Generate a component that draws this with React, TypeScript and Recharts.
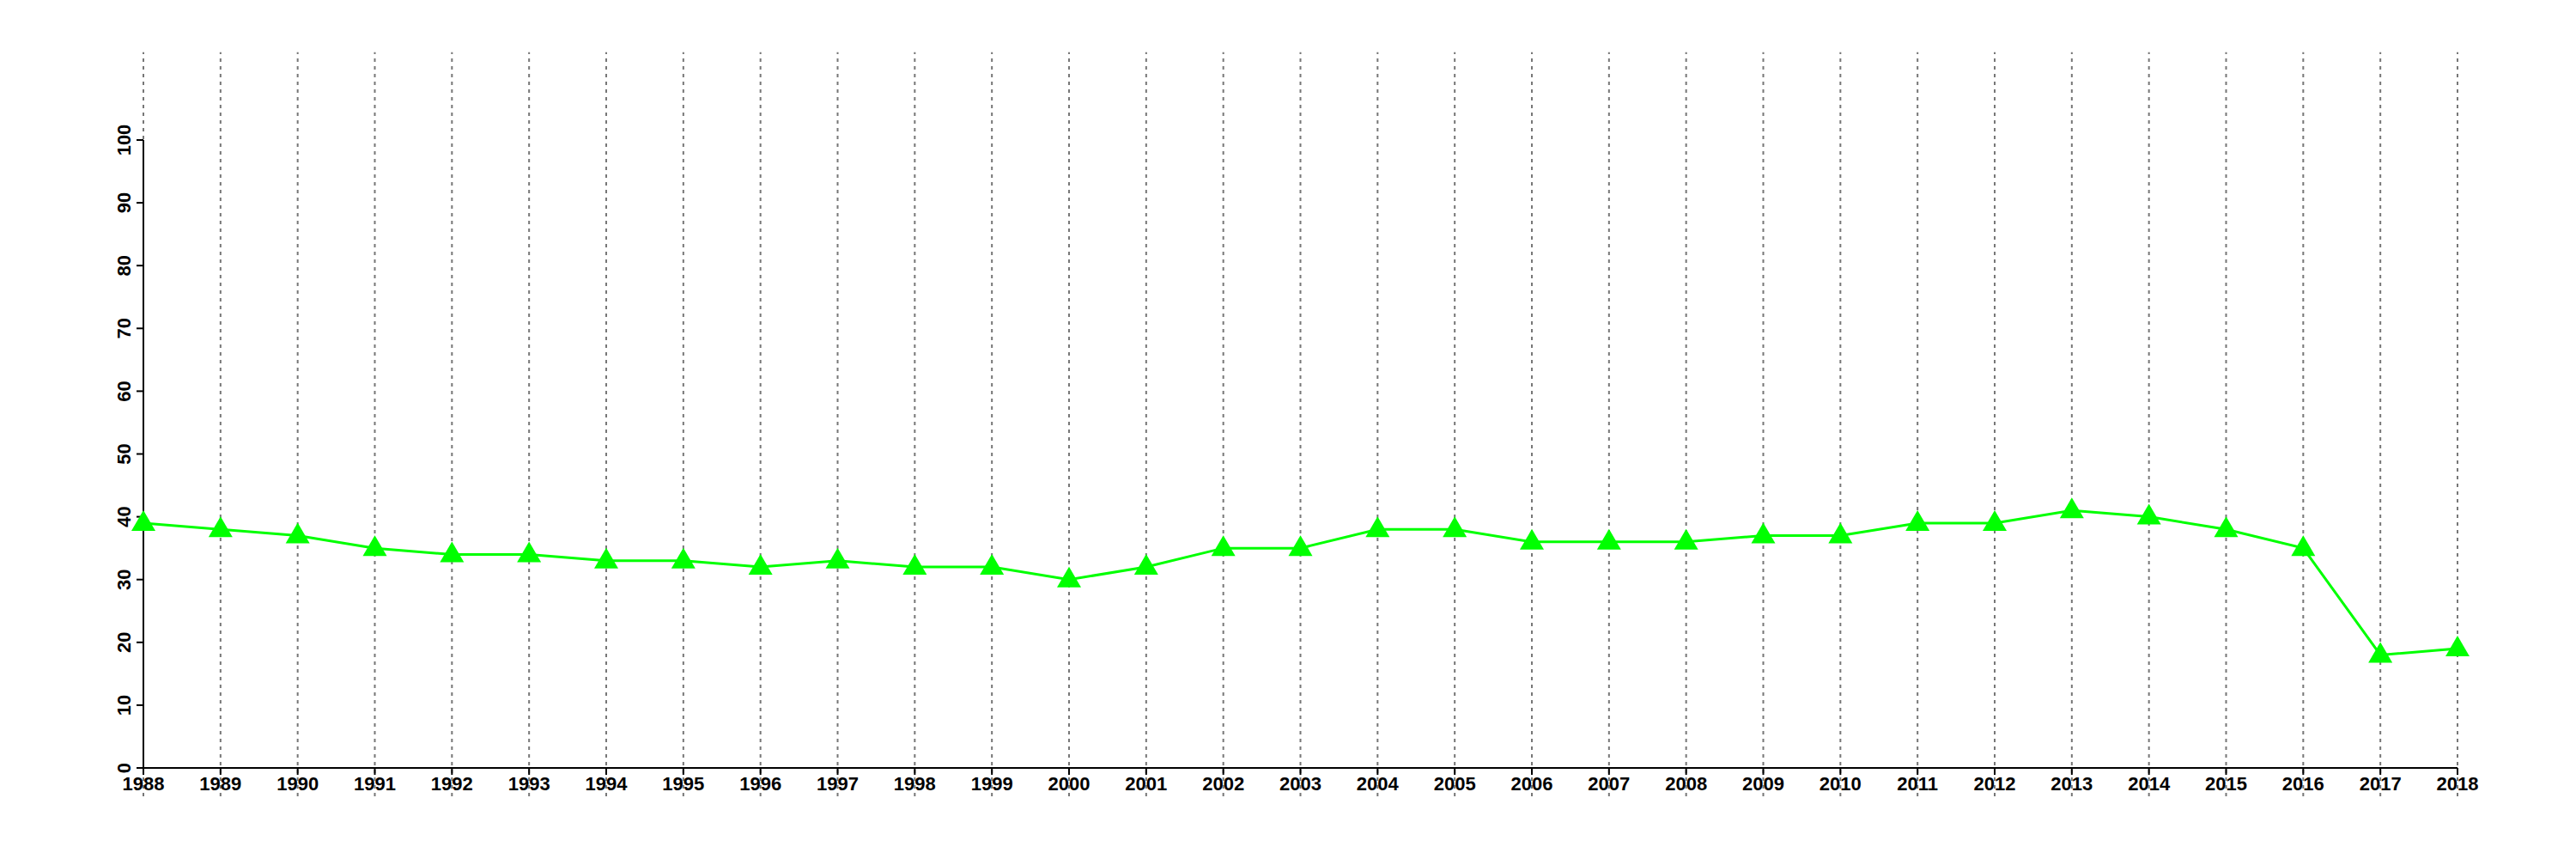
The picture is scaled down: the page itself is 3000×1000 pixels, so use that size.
import { LineChart, Line, XAxis, YAxis, ReferenceLine } from "recharts";

const years = [
  1988, 1989, 1990, 1991, 1992, 1993, 1994, 1995, 1996, 1997, 1998, 1999, 2000, 2001, 2002, 2003,
  2004, 2005, 2006, 2007, 2008, 2009, 2010, 2011, 2012, 2013, 2014, 2015, 2016, 2017, 2018,
];
const values = [
  39, 38, 37, 35, 34, 34, 33, 33, 32, 33, 32, 32, 30, 32, 35, 35,
  38, 38, 36, 36, 36, 37, 37, 39, 39, 41, 40, 38, 35, 18, 19,
];
const yTicks = [0, 10, 20, 30, 40, 50, 60, 70, 80, 90, 100];

// vertical dashed guides run past the axis box, top and bottom
const gridTop = 114;
const gridBottom = -4.5;

const data = years.map((year, i) => ({ year, value: values[i] }));

const font = "'Liberation Sans', Arial, Helvetica, sans-serif";

const Triangle = (props: any) => {
  const { cx, cy, index } = props;
  if (cx == null || cy == null) return null;
  return (
    <path
      key={`tri-${index}`}
      d={`M${cx},${cy - 15} L${cx + 14},${cy + 9} L${cx - 14},${cy + 9} Z`}
      fill="#00ff00"
    />
  );
};

const YTick = (props: any) => {
  const { x, y, payload } = props;
  return (
    <text
      x={x}
      y={y}
      transform={`rotate(-90, ${x}, ${y})`}
      textAnchor="middle"
      fontFamily={font}
      fontWeight="bold"
      fontSize={22}
      fill="#000"
    >
      {payload.value}
    </text>
  );
};

export default function App() {
  return (
    <div style={{ position: "absolute", left: 0, top: 0, width: 3000, height: 1000, background: "#fff" }}>
      <LineChart width={3000} height={1000} data={data} margin={{ top: 163, right: 138, left: 107, bottom: 66 }}>
        <XAxis
          type="number"
          dataKey="year"
          domain={[1988, 2018]}
          ticks={years}
          interval={0}
          height={40}
          tickSize={8}
          tickMargin={2}
          axisLine={{ stroke: "#000", strokeWidth: 2 }}
          tickLine={{ stroke: "#000", strokeWidth: 2 }}
          tick={{ fill: "#000", fontFamily: font, fontWeight: "bold", fontSize: 22 }}
        />
        <YAxis
          type="number"
          domain={[0, 100]}
          ticks={yTicks}
          interval={0}
          width={60}
          tickSize={8}
          tickMargin={7}
          axisLine={{ stroke: "#000", strokeWidth: 2 }}
          tickLine={{ stroke: "#000", strokeWidth: 2 }}
          tick={<YTick />}
        />
        <Line
          type="linear"
          dataKey="value"
          stroke="#00ff00"
          strokeWidth={3}
          dot={(p: any) => <Triangle {...p} />}
          activeDot={false}
          isAnimationActive={false}
        />
        {years.map((yr) => (
          <ReferenceLine
            key={yr}
            segment={[
              { x: yr, y: gridBottom },
              { x: yr, y: gridTop },
            ]}
            ifOverflow="visible"
            stroke="#777777"
            strokeWidth={2}
            strokeDasharray="4 5"
          />
        ))}
      </LineChart>
    </div>
  );
}
